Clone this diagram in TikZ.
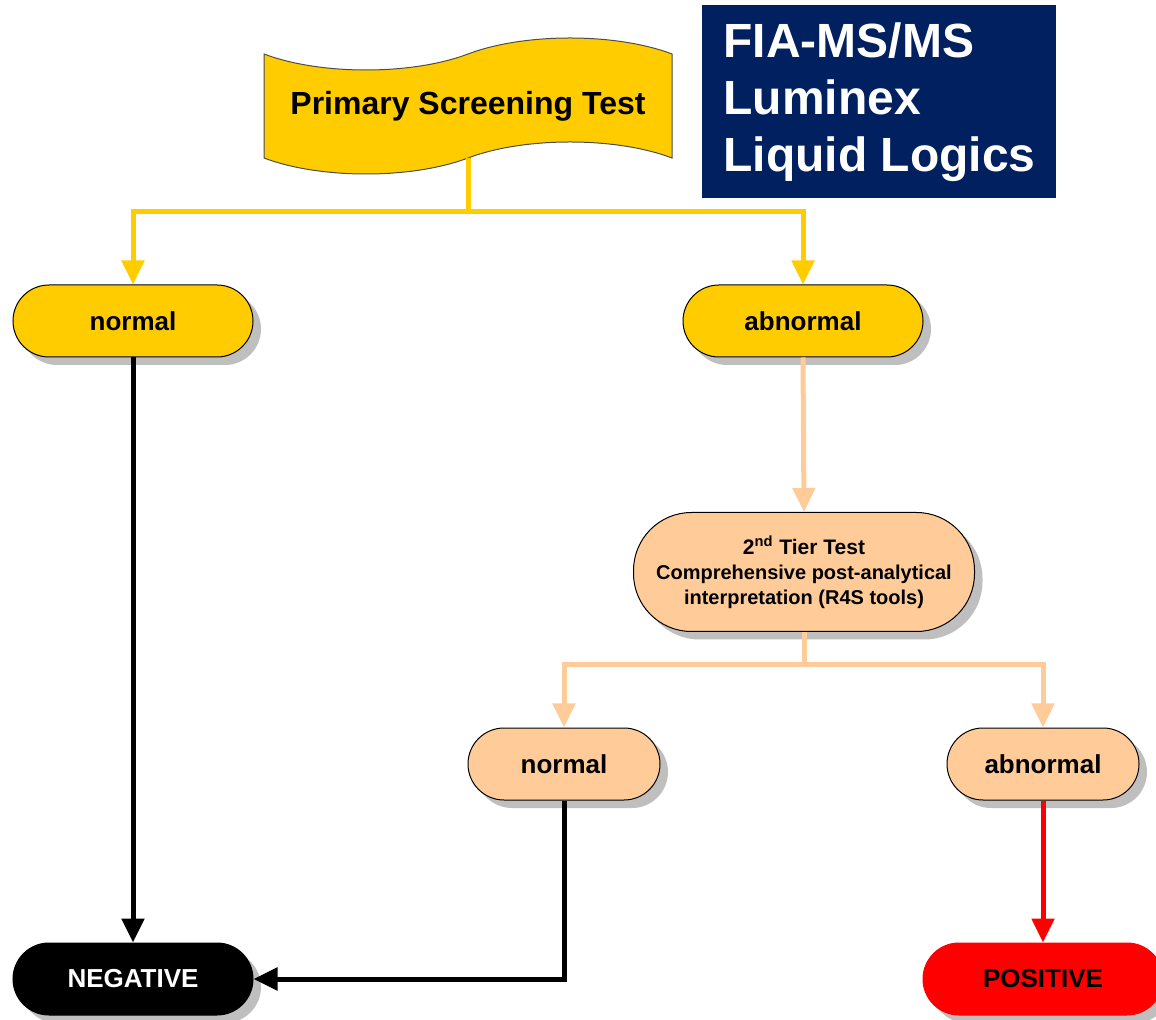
\documentclass[tikz,border=0pt]{standalone}
\usepackage{fontspec}
\setmainfont{Liberation Sans}
\usepackage{tikz}
\usetikzlibrary{arrows.meta, positioning, calc, shapes, shadows}
\usepackage{xcolor}
\definecolor{gold}{RGB}{255,204,0}
\definecolor{peach}{RGB}{255,204,153}
\definecolor{navy}{RGB}{0,32,96}
\definecolor{alarm}{RGB}{255,0,0}

\begin{document}
\begin{tikzpicture}[x=0.5pt, y=-0.5pt,
    pill/.style={rectangle, rounded corners=18pt, minimum width=120pt, minimum height=36pt,
      draw=black, line width=0.5pt, inner sep=0pt, font=\fontsize{13}{15}\selectfont\bfseries,
      drop shadow={shadow xshift=4pt, shadow yshift=-4pt, fill=black!25, opacity=1}},
    link/.style={line width=2.5pt},
    tip/.style={-{Triangle[length=12pt, width=11pt]}}]
  \useasboundingbox (0,0) rectangle (1156,1020);

  % header
  \node[tape, draw=black!70, line width=0.5pt, fill=gold, minimum width=204pt, minimum height=68pt,
    tape bend height=16pt, font=\fontsize{16}{18}\selectfont\bfseries] (pst) at (468,106) {Primary Screening Test};
  \node[fill=navy, text=white, anchor=north west, minimum width=177pt, minimum height=96.5pt,
    align=left, font=\fontsize{24}{28.5}\selectfont\bfseries] (tools) at (702,5) {FIA-MS/MS\\Luminex\\Liquid Logics};

  % first level
  \node[pill, fill=gold] (norm1) at (133,321) {normal};
  \node[pill, fill=gold] (abn1) at (803,321) {abnormal};
  \node[pill, fill=peach, minimum width=170.5pt, minimum height=59.5pt, rounded corners=29pt, align=center,
    font=\fontsize{10}{12.5}\selectfont\bfseries] (tier) at (804,572)
    {{\fontsize{10.5}{12.5}\selectfont 2\textsuperscript{nd} Tier Test}\\Comprehensive post-analytical\\interpretation (R4S tools)};

  % second level
  \node[pill, fill=peach, minimum width=96pt] (norm2) at (564,764) {normal};
  \node[pill, fill=peach, minimum width=96pt] (abn2) at (1043,764) {abnormal};

  % results
  \node[pill, fill=black, text=white] (neg) at (133,979) {NEGATIVE};
  \node[pill, fill=alarm, draw=alarm] (pos) at (1043,979) {POSITIVE};

  \coordinate (ysplit) at (468,212);
  \coordinate (psplit) at (804,665);

  \draw[link, gold] (pst.south) -- (ysplit);
  \draw[link, gold, tip] (ysplit) -| (norm1.north);
  \draw[link, gold, tip] (ysplit) -| (abn1.north);
  \draw[link, peach, tip] (abn1.south) -- (tier.north);
  \draw[link, peach] (tier.south) -- (psplit);
  \draw[link, peach, tip] (psplit) -| (norm2.north);
  \draw[link, peach, tip] (psplit) -| (abn2.north);
  \draw[link, black, tip] (norm1.south) -- (neg.north);
  \draw[link, black, tip] (norm2.south) |- (neg.east);
  \draw[link, alarm, tip] (abn2.south) -- (pos.north);
\end{tikzpicture}
\end{document}
